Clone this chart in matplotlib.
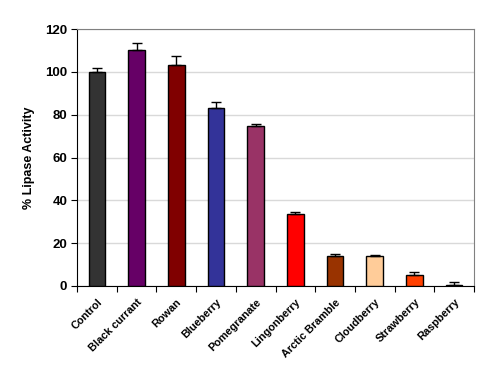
import matplotlib
matplotlib.use("Agg")
import matplotlib.pyplot as plt
import numpy as np

categories = ["Control", "Black currant", "Rowan", "Blueberry", "Pomegranate",
              "Lingonberry", "Arctic Bramble", "Cloudberry", "Strawberry", "Raspberry"]
values = [100, 110, 103, 83, 74.7, 33.6, 14.0, 14.0, 5.0, 0.4]
errors = [1.6, 3.6, 4.5, 2.8, 1.0, 1.0, 1.1, 0.3, 1.5, 1.4]
colors = ["#333333", "#660066", "#800000", "#333399", "#993366",
          "#FF0000", "#993300", "#FFCC99", "#FF4000", "#800000"]
yticks = [0, 20, 40, 60, 80, 100, 120]

plt.rcParams['font.family'] = ['Liberation Sans', 'DejaVu Sans']

fig = plt.figure(figsize=(5, 3.77), dpi=100)
ax = fig.add_axes([77/500, 1 - 286/377, (474-77)/500, (286-29)/377])

x = np.arange(len(categories))
ax.bar(x, values, width=0.42, color=colors, edgecolor="black", linewidth=1.0, zorder=3)
ax.errorbar(x, values, yerr=[np.zeros(len(errors)), errors], fmt='none',
            ecolor='black', elinewidth=1.0, capsize=3.5, capthick=1.0, zorder=4)

ax.set_xlim(-0.5, len(categories) - 0.5)
ax.set_ylim(0, 120)
ax.set_yticks(yticks)
ax.set_yticklabels([str(t) for t in yticks], fontsize=9.5, fontweight='bold')
ax.yaxis.grid(True, color="#d9d9d9", linewidth=1.0, zorder=0)
ax.set_axisbelow(True)

ax.set_xticks(np.arange(len(categories) + 1) - 0.5, minor=False)
ax.set_xticklabels([])
ax.set_xticks(x, minor=True)
ax.set_xticklabels(categories, minor=True, rotation=45, ha='right',
                   rotation_mode='anchor', fontsize=7.8, fontweight='bold')
ax.tick_params(axis='x', which='minor', length=0, pad=8)
ax.tick_params(axis='x', which='major', length=4, direction='out', color='black')
ax.tick_params(axis='y', length=4, direction='out', pad=3)

ax.set_ylabel("% Lipase Activity", fontsize=9, fontweight='bold', labelpad=7)

for side in ['top', 'right']:
    ax.spines[side].set_color("#808080")
for side in ['left', 'bottom']:
    ax.spines[side].set_color("black")

fig.savefig("out.png", dpi=100)
